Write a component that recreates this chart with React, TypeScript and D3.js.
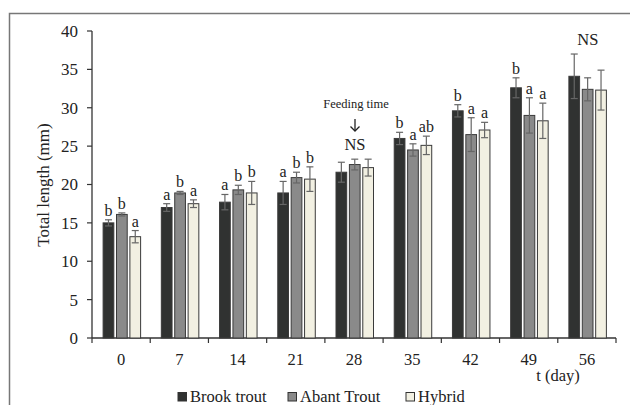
import React from "react";
import * as d3 from "d3";

const days = ["0", "7", "14", "21", "28", "35", "42", "49", "56"];
const seriesNames = ["Brook trout", "Abant Trout", "Hybrid"];
const seriesColors = ["#303231", "#8a8a8a", "#f2f0e2"];
const brookMean = [15.0, 17.0, 17.7, 18.9, 21.6, 26.0, 29.6, 32.6, 34.1];
const brookErr = [0.4, 0.5, 1.0, 1.5, 1.3, 0.8, 0.8, 1.3, 2.9];
const abantMean = [16.1, 18.9, 19.3, 20.9, 22.6, 24.5, 26.5, 29.0, 32.4];
const abantErr = [0.2, 0.2, 0.6, 0.7, 0.7, 0.8, 2.2, 2.3, 1.5];
const hybridMean = [13.2, 17.5, 18.9, 20.7, 22.2, 25.1, 27.1, 28.3, 32.3];
const hybridErr = [0.8, 0.5, 1.5, 1.6, 1.1, 1.2, 1.0, 2.3, 2.6];
const brookLetters = ["b", "a", "a", "a", "", "b", "b", "b", ""];
const abantLetters = ["b", "b", "b", "b", "", "a", "a", "a", ""];
const hybridLetters = ["a", "a", "b", "b", "", "ab", "a", "a", ""];
const nsDays = ["28", "56"];
const yTicks = [0, 5, 10, 15, 20, 25, 30, 35, 40];

const means = [brookMean, abantMean, hybridMean];
const errs = [brookErr, abantErr, hybridErr];
const letters = [brookLetters, abantLetters, hybridLetters];

export default function App() {
  const W = 630, H = 405;
  const x0 = 92, x1 = 616, yTop = 31, yBot = 338;
  const x = d3.scaleBand<string>().domain(days).range([x0, x1]).padding(0);
  const y = d3.scaleLinear().domain([0, 40]).range([yBot, yTop]);
  const sub = d3.scaleBand<number>().domain([0, 1, 2]).range([-18, 19.5]).paddingInner(0.2);
  const font = "'Liberation Serif', 'Times New Roman', serif";
  const bw = sub.bandwidth();

  return (
    <svg width={W} height={H} style={{ position: "absolute", left: 0, top: 0 }} fontFamily={font}>
      <rect x={0} y={0} width={W} height={H} fill="#fff" />
      <path d={`M9.5,${H} V13.5 H${W}`} fill="none" stroke="#777" strokeWidth={1.5} />
      {/* y axis */}
      <line x1={x0} x2={x0} y1={yTop} y2={yBot} stroke="#333" strokeWidth={1.3} />
      {yTicks.map((t) => (
        <g key={t}>
          <line x1={x0 - 5} x2={x0} y1={y(t)} y2={y(t)} stroke="#333" strokeWidth={1.2} />
          <text x={x0 - 14} y={y(t)} dy="0.35em" textAnchor="end" fontSize={17} fill="#222">{t}</text>
        </g>
      ))}
      {/* x axis */}
      <line x1={x0} x2={x1} y1={yBot} y2={yBot} stroke="#333" strokeWidth={1.3} />
      {[...days.map((d) => x(d)!), x1].map((px, i) => (
        <line key={i} x1={px} x2={px} y1={yBot} y2={yBot + 5} stroke="#333" strokeWidth={1.2} />
      ))}
      {days.map((d) => (
        <text key={d} x={x(d)! + x.bandwidth() / 2} y={365} textAnchor="middle" fontSize={16.5} fill="#222">{d}</text>
      ))}
      <text x={558} y={381} textAnchor="middle" fontSize={16.5} fill="#222">t (day)</text>
      <text transform={`translate(49,185) rotate(-90)`} textAnchor="middle" fontSize={17} fill="#222">Total length (mm)</text>
      {/* bars */}
      {days.map((d, i) => {
        const cx = x(d)! + x.bandwidth() / 2;
        return (
          <g key={d}>
            {means.map((m, s) => {
              const bx = cx + sub(s)!;
              const top = y(m[i] + errs[s][i]);
              const bot = y(m[i] - errs[s][i]);
              const mx = bx + bw / 2;
              return (
                <g key={s}>
                  <rect x={bx} y={y(m[i])} width={bw} height={yBot - y(m[i])} fill={seriesColors[s]} stroke="#3a3a3a" strokeWidth={1} />
                  <line x1={mx} x2={mx} y1={top} y2={bot} stroke="#666" strokeWidth={1.2} />
                  <line x1={mx - 3.5} x2={mx + 3.5} y1={top} y2={top} stroke="#666" strokeWidth={1.2} />
                  <line x1={mx - 3.5} x2={mx + 3.5} y1={bot} y2={bot} stroke="#666" strokeWidth={1.2} />
                  {letters[s][i] && (
                    <text x={mx} y={top - 4} textAnchor="middle" fontSize={16} fill="#222">{letters[s][i]}</text>
                  )}
                </g>
              );
            })}
          </g>
        );
      })}
      {nsDays.map((d) => {
        const i = days.indexOf(d);
        const cx = x(d)! + x.bandwidth() / 2 + 1;
        const maxTop = Math.max(...means.map((m, s) => m[i] + errs[s][i]));
        return (
          <text key={d} x={cx} y={y(maxTop) - 9} textAnchor="middle" fontSize={16.5} fill="#222">NS</text>
        );
      })}
      {/* Feeding time annotation */}
      <text x={356} y={108} textAnchor="middle" fontSize={12.5} fill="#222">Feeding time</text>
      <g stroke="#222" strokeWidth={1.3} fill="none">
        <line x1={355} x2={355} y1={119} y2={131} />
        <path d="M350.5,126.5 L355,131 L359.5,126.5" />
      </g>
      {/* legend */}
      {seriesNames.map((n, s) => {
        const lx = [178, 288, 406][s];
        return (
          <g key={n}>
            <rect x={lx} y={392.5} width={8.5} height={8.5} fill={seriesColors[s]} stroke="#333" strokeWidth={1} />
            <text x={lx + 12} y={401.5} fontSize={16.5} fill="#222">{n}</text>
          </g>
        );
      })}
    </svg>
  );
}
